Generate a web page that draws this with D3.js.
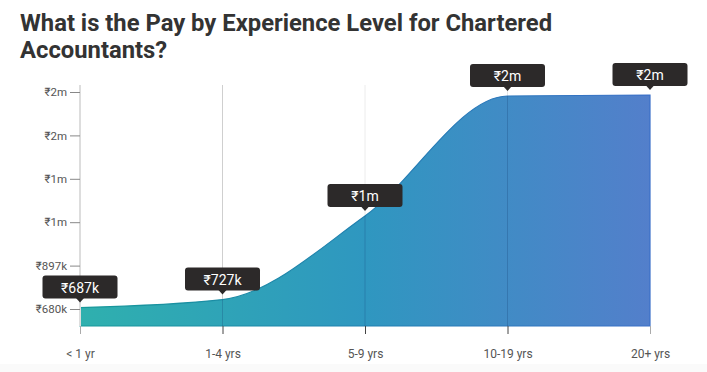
<!DOCTYPE html>
<html><head><meta charset="utf-8">
<script src="https://cdn.jsdelivr.net/npm/d3@7"></script>
<style>
html,body{margin:0;padding:0;background:#fff;}
body{width:707px;height:372px;overflow:hidden;font-family:Roboto,"Noto Sans",sans-serif;}
</style></head>
<body><svg id="c" width="707" height="372"></svg>
<script>
const categories = ["< 1 yr", "1-4 yrs", "5-9 yrs", "10-19 yrs", "20+ yrs"];
const values = [687000, 727000, 1145000, 1745000, 1750000];
const valueLabels = ["₹687k", "₹727k", "₹1m", "₹2m", "₹2m"];
const yTicks = [680000, 897000, 1114000, 1331000, 1548000, 1765000];
const titleLines = ["What is the Pay by Experience Level for Chartered", "Accountants?"];

const svg = d3.select("#c");
svg.append("rect").attr("x",0).attr("y",364).attr("width",707).attr("height",8).attr("fill","#fafafa");

const title = svg.append("text").attr("x",20).attr("y",31)
  .attr("font-family","Roboto").attr("font-weight",700).attr("font-size",23.8).attr("fill","#333");
titleLines.forEach((t,i)=>title.append("tspan").attr("x",20).attr("dy",i?27:0).text(t));

const x = d3.scalePoint().domain(categories).range([80,650]);
const y = d3.scaleLinear().domain([595000,1800000]).range([326,85]);

const fmt = v => v>=1e6 ? "₹"+Math.round(v/1e6)+"m" : "₹"+Math.round(v/1e3)+"k";

const defs = svg.append("defs");
const g1 = defs.append("linearGradient").attr("id","fillG").attr("x1","0%").attr("x2","100%");
g1.append("stop").attr("offset","0%").attr("stop-color","#2fb0ae");
g1.append("stop").attr("offset","50%").attr("stop-color","#2f97c0");
g1.append("stop").attr("offset","100%").attr("stop-color","#537fcb");
const g2 = defs.append("linearGradient").attr("id","strokeG").attr("x1","0%").attr("x2","100%");
g2.append("stop").attr("offset","0%").attr("stop-color","#17999a");
g2.append("stop").attr("offset","50%").attr("stop-color","#1f7fb0");
g2.append("stop").attr("offset","100%").attr("stop-color","#3a6fc8");

// grid lines behind
const gridCol = ["none","#cfcfcf","#ececec","#e6e6e6","none"];
svg.append("g").selectAll("line").data(categories).join("line")
  .attr("x1",d=>x(d)).attr("x2",d=>x(d)).attr("y1",85).attr("y2",326)
  .attr("stroke",(d,i)=>gridCol[i]).attr("stroke-width",1);

const data = categories.map((c,i)=>({c, v: values[i]}));
const area = d3.area().x(d=>x(d.c)).y0(326).y1(d=>y(d.v)).curve(d3.curveMonotoneX);
svg.append("path").datum(data).attr("d",area).attr("fill","url(#fillG)")
  .attr("stroke","url(#strokeG)").attr("stroke-width",1.2);

// lines over area
svg.append("g").selectAll("line").data(categories.slice(1,4)).join("line")
  .attr("x1",d=>x(d)).attr("x2",d=>x(d)).attr("y1",d=>y(values[categories.indexOf(d)])).attr("y2",326)
  .attr("stroke","rgba(20,60,110,0.25)").attr("stroke-width",1);

// y axis
const yAxis = d3.axisLeft(y).tickValues(yTicks).tickFormat(fmt).tickSize(10).tickPadding(3);
const ya = svg.append("g").attr("transform","translate(80,0)").call(yAxis);
ya.select(".domain").attr("stroke","#ddd").attr("stroke-width",2).attr("d","M0,85V326");
ya.selectAll(".tick line").attr("stroke","#888");
ya.selectAll(".tick text").attr("fill","#555").attr("font-size",11.5).attr("font-family","Roboto");

// x axis
const xAxis = d3.axisBottom(x).tickSize(8).tickPadding(15);
const xa = svg.append("g").attr("transform","translate(0,326)").call(xAxis);
xa.select(".domain").remove();
xa.selectAll(".tick line").attr("stroke",(d,i)=> (i===0||i===4)?"#aaa":"#444");
xa.selectAll(".tick text").attr("fill","#555").attr("font-size",12).attr("font-family","Roboto");

// tooltips
const tt = svg.append("g").selectAll("g").data(data).join("g")
  .attr("transform",d=>`translate(${x(d.c)},${y(d.v)})`);
tt.append("rect").attr("x",-37.5).attr("y",-32).attr("width",75).attr("height",23).attr("rx",3)
  .attr("fill","#2c2929");
tt.append("path").attr("d","M-4,-9.5L0,-5L4,-9.5Z").attr("fill","#2c2929");
tt.append("text").attr("y",-15).attr("text-anchor","middle").attr("fill","#fff")
  .attr("font-size",14).attr("font-family","Roboto").text((d,i)=>valueLabels[i]);
</script></body></html>
